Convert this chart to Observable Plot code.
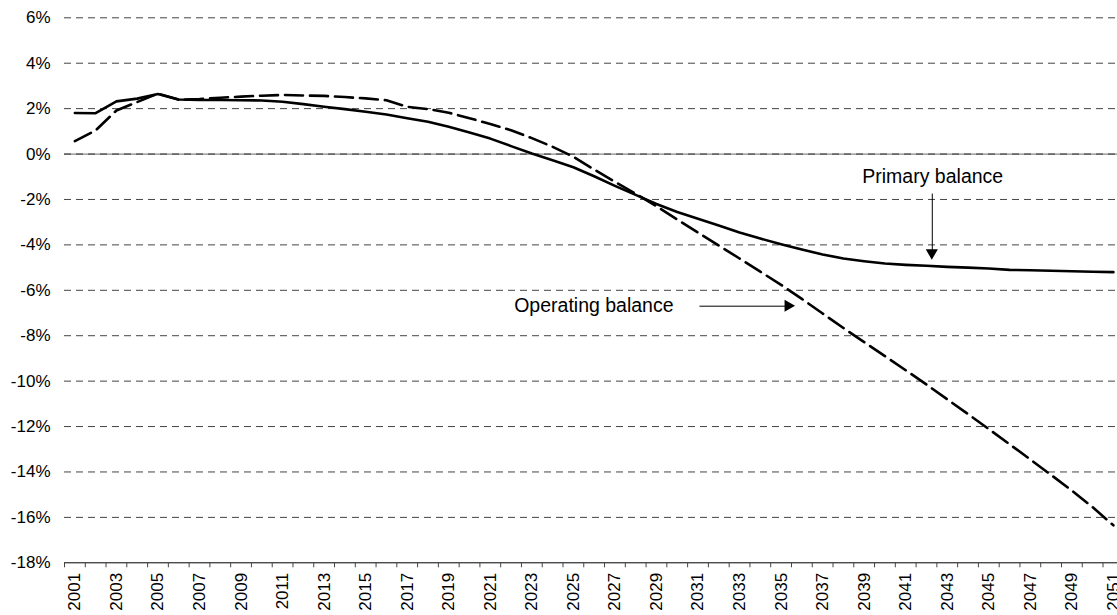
<!DOCTYPE html>
<html><head><meta charset="utf-8">
<script src="https://cdn.jsdelivr.net/npm/d3@7"></script>
<script src="https://cdn.jsdelivr.net/npm/@observablehq/plot@0.6"></script>
<style>
html,body{margin:0;padding:0;background:#fff;overflow:hidden;}
#chart{width:1117px;height:615px;overflow:hidden;}
</style></head><body><div id="chart"></div>
<script>
const years = [2001,2002,2003,2004,2005,2006,2007,2008,2009,2010,2011,2012,2013,2014,2015,2016,2017,2018,2019,2020,
  2021,2022,2023,2024,2025,2026,2027,2028,2029,2030,2031,2032,2033,2034,2035,2036,2037,2038,2039,2040,
  2041,2042,2043,2044,2045,2046,2047,2048,2049,2050,2051];
const primaryBalance = [1.81,1.80,2.32,2.44,2.64,2.40,2.38,2.38,2.37,2.36,2.30,2.20,2.08,1.98,1.86,1.74,1.58,1.42,1.20,0.95,
  0.68,0.35,0.02,-0.27,-0.58,-0.98,-1.40,-1.80,-2.20,-2.55,-2.85,-3.15,-3.45,-3.72,-3.97,-4.20,-4.42,-4.60,-4.72,-4.82,
  -4.88,-4.92,-4.97,-5.00,-5.04,-5.10,-5.12,-5.14,-5.16,-5.18,-5.20];
const operatingBalance = [0.57,1.04,1.92,2.29,2.66,2.39,2.42,2.48,2.53,2.57,2.60,2.58,2.56,2.51,2.45,2.37,2.08,1.98,1.82,1.58,
  1.32,1.05,0.70,0.32,-0.12,-0.68,-1.22,-1.75,-2.30,-2.88,-3.46,-4.03,-4.60,-5.18,-5.76,-6.38,-7.02,-7.66,-8.28,-8.90,
  -9.52,-10.15,-10.80,-11.45,-12.11,-12.78,-13.45,-14.13,-14.82,-15.55,-16.35];
const yTicks = [6,4,2,0,-2,-4,-6,-8,-10,-12,-14,-16,-18];
const xLabelYears = [2001,2003,2005,2007,2009,2011,2013,2015,2017,2019,2021,2023,2025,2027,2029,2031,2033,2035,2037,2039,2041,2043,2045,2047,2049,2051];
const primaryLabel = [{label: "Primary balance", x: 2042.3, y: -0.99}];
const operatingLabel = [{label: "Operating balance", x: 2022.15, y: -6.67}];
const arrows = [
  {x1: 2042.28, y1: -1.74, x2: 2042.28, y2: -4.37, rotate: 180, dx: 0, dy: -6.5},
  {x1: 2031.07, y1: -6.70, x2: 2035.36, y2: -6.70, rotate: 90, dx: -6.5, dy: 0}
];

const rows = [];
years.forEach((yr, i) => {
  rows.push({year: yr, value: primaryBalance[i], series: "Primary balance"});
  rows.push({year: yr, value: operatingBalance[i], series: "Operating balance"});
});
const boundaries = years.map(y => y - 0.5).concat([years[years.length - 1] + 0.5]);
const FONT = "'Liberation Sans', Arial, sans-serif";

const chart = Plot.plot({
  width: 1117,
  height: 615,
  marginLeft: 64,
  marginRight: -6.3,
  marginTop: 17.3,
  marginBottom: 52.7,
  style: {fontFamily: FONT, fontSize: "17px", color: "#000", background: "#fff", overflow: "hidden"},
  x: {type: "linear", domain: [2000.5, 2051.5], axis: null},
  y: {domain: [-18, 6], axis: null},
  marks: [
    Plot.ruleY(yTicks.filter(d => d !== 0 && d !== -18), {stroke: "#444", strokeWidth: 1, strokeDasharray: "7,5"}),
    Plot.ruleY([0], {stroke: "#888", strokeWidth: 1.2}),
    Plot.ruleY([0], {stroke: "#333", strokeWidth: 1, strokeDasharray: "7,5"}),
    Plot.ruleY([-18], {stroke: "#000", strokeWidth: 1}),
    Plot.axisX({ticks: boundaries, tickSize: 5, stroke: "#444", tickFormat: () => "", label: null}),
    Plot.axisX({ticks: xLabelYears, tickSize: 0, tickPadding: 10, tickRotate: -90, tickFormat: d => String(d), label: null, fontSize: 17, fill: "#000"}),
    Plot.axisY({ticks: yTicks, tickSize: 0, tickPadding: 14, tickFormat: d => d + "%", label: null, fontSize: 17, fill: "#000"}),
    Plot.line(rows.filter(d => d.series === "Primary balance"), {x: "year", y: "value", stroke: "#000", strokeWidth: 2.6, curve: "linear"}),
    Plot.line(rows.filter(d => d.series === "Operating balance"), {x: "year", y: "value", stroke: "#000", strokeWidth: 2.6, strokeDasharray: "18,7", curve: "linear"}),
    Plot.text(primaryLabel, {x: "x", y: "y", text: "label", textAnchor: "middle", fontSize: 19.5, fill: "#000", lineAnchor: "middle"}),
    Plot.text(operatingLabel, {x: "x", y: "y", text: "label", textAnchor: "start", fontSize: 19.5, fill: "#000", lineAnchor: "middle"}),
    Plot.link(arrows, {x1: "x1", y1: "y1", x2: "x2", y2: "y2", stroke: "#000", strokeWidth: 1}),
    Plot.dot(arrows, {x: "x2", y: "y2", symbol: "triangle", r: 4.5, fill: "#000", stroke: "none", rotate: "rotate", dx: "dx", dy: "dy"})
  ]
});
document.getElementById("chart").appendChild(chart);
</script>
</body></html>
